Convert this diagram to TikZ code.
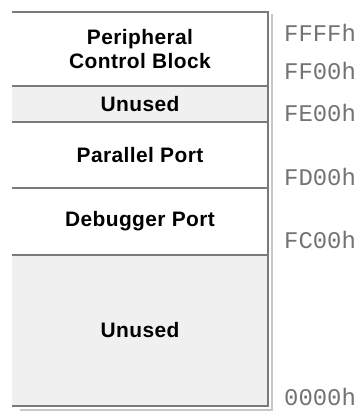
\documentclass[tikz,border=0pt]{standalone}
\usepackage{fontspec}
\setmainfont{Liberation Sans}
\setmonofont{Liberation Mono}
\usetikzlibrary{positioning}
\definecolor{unusedgray}{RGB}{240,240,240}
\newcommand{\memregion}[4][]{\node[region,#1] at (#2) (#3) {#4}}
\newcommand{\addrlabel}[3]{\node[addr] at (#1) (#2) {#3}}

\begin{document}
\begin{tikzpicture}[x=1bp,y=-1bp,
		region/.style={rectangle,inner sep=0pt,minimum width=256bp,align=center,
			font=\bfseries\fontsize{21}{24}\selectfont\addfontfeatures{LetterSpace=2}},
		addr/.style={anchor=west,inner sep=0pt,text=black!55,
			font=\ttfamily\fontsize{24}{24}\selectfont},
		edge/.style={draw=black!52,line width=1.7bp},
		shade/.style={draw=black!22,line width=2.4bp}]
				\useasboundingbox (0,0) rectangle (361,412);
				
				% memory map, top to bottom
				\memregion[fill=white,minimum height=74bp]{140,49}{pcb}{Peripheral\\Control Block};
				\memregion[fill=unusedgray,minimum height=36bp]{140,104}{unusedhi}{Unused};
				\memregion[fill=white,minimum height=66bp]{140,155}{parport}{Parallel Port};
				\memregion[fill=white,minimum height=67bp]{140,221.5}{dbgport}{Debugger Port};
				\memregion[fill=unusedgray,minimum height=151bp]{140,330.5}{unusedlo}{Unused};
				
				% drop shadow
				\draw[shade] ([shift={(3.5,2)}]pcb.north east) -- ([shift={(3.5,3.5)}]unusedlo.south east) -- ([shift={(8,3.5)}]unusedlo.south west);
				
				% outline and dividers
				\draw[edge] (pcb.north west) -- (pcb.north east) -- (unusedlo.south east) -- (unusedlo.south west);
				\foreach \a in {pcb,unusedhi,parport,dbgport}
					\draw[edge] (\a.south west) -- (\a.south east);
				
				% addresses
				\addrlabel{284,33}{aFFFF}{FFFFh};
				\addrlabel{284,71}{aFF00}{FF00h};
				\addrlabel{284,113}{aFE00}{FE00h};
				\addrlabel{284,177}{aFD00}{FD00h};
				\addrlabel{284,240}{aFC00}{FC00h};
				\addrlabel{284,397}{a0000}{0000h};
				
				\end{tikzpicture}
\end{document}
